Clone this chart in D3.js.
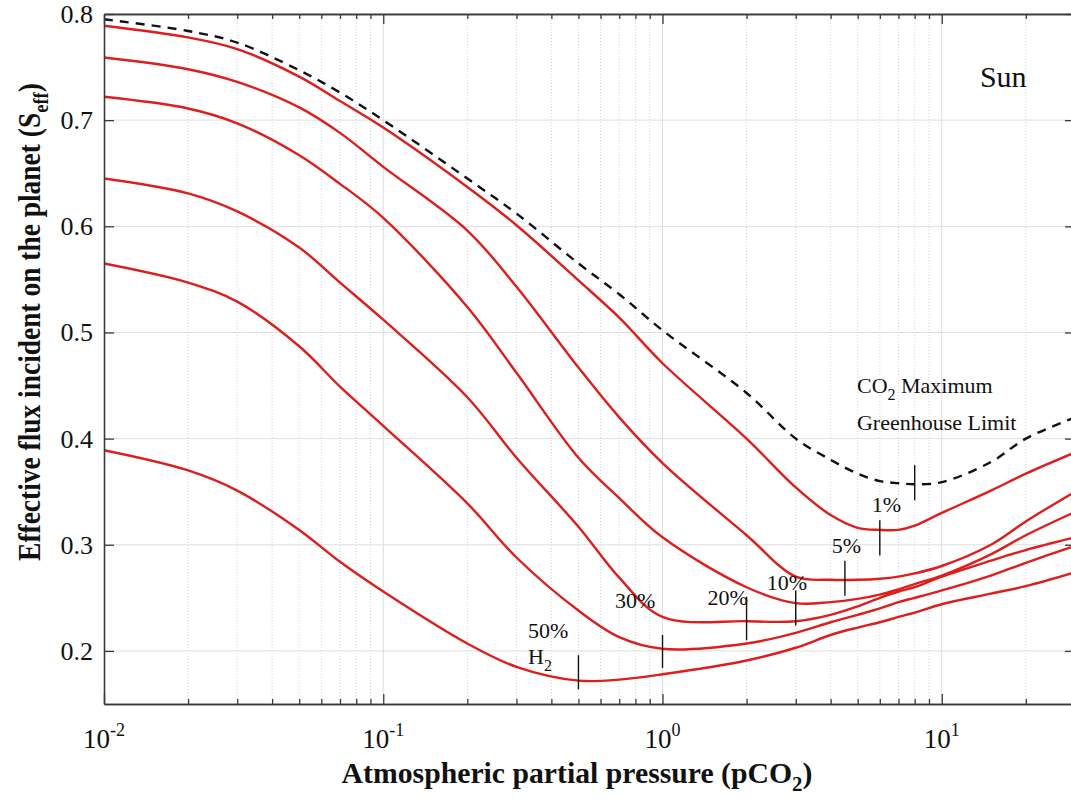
<!DOCTYPE html>
<html>
<head>
<meta charset="utf-8">
<script src="https://cdn.jsdelivr.net/npm/d3@7"></script>
<style>
  body { margin: 0; background: #fff; }
  text { font-family: "Liberation Serif", "Times New Roman", serif; fill: #111; }
</style>
</head>
<body>
<div id="chart"></div>
<script>
// pCO2 sample points (bar)
const pco2 = [0.01, 0.02, 0.03, 0.05, 0.07, 0.1, 0.2, 0.3, 0.5, 0.7, 1, 2, 3, 4, 5, 6, 7, 8, 10, 15, 20, 30];

// CO2 maximum greenhouse limit (dashed)
const co2Limit = [0.795, 0.784, 0.773, 0.747, 0.726, 0.700, 0.645, 0.612, 0.565, 0.536, 0.502, 0.443, 0.400, 0.380, 0.367, 0.360, 0.358, 0.357, 0.359, 0.378, 0.400, 0.420];

// H2 concentrations (red)
const h2_01 = [0.789, 0.778, 0.767, 0.741, 0.718, 0.693, 0.637, 0.601, 0.549, 0.514, 0.471, 0.400, 0.354, 0.328, 0.316, 0.314, 0.314, 0.318, 0.330, 0.351, 0.367, 0.387];
const h2_05 = [0.759, 0.748, 0.736, 0.712, 0.688, 0.656, 0.596, 0.543, 0.467, 0.420, 0.377, 0.309, 0.270, 0.267, 0.267, 0.268, 0.270, 0.273, 0.280, 0.300, 0.322, 0.350];
const h2_10 = [0.722, 0.711, 0.697, 0.667, 0.640, 0.608, 0.524, 0.462, 0.382, 0.344, 0.307, 0.260, 0.245, 0.246, 0.249, 0.253, 0.258, 0.263, 0.271, 0.291, 0.309, 0.331];
const h2_20 = [0.645, 0.631, 0.614, 0.580, 0.547, 0.512, 0.439, 0.382, 0.317, 0.269, 0.232, 0.228, 0.228, 0.234, 0.242, 0.250, 0.256, 0.260, 0.270, 0.285, 0.295, 0.307];
const h2_30 = [0.565, 0.547, 0.529, 0.487, 0.449, 0.412, 0.339, 0.288, 0.238, 0.213, 0.202, 0.207, 0.217, 0.227, 0.234, 0.240, 0.246, 0.250, 0.257, 0.271, 0.283, 0.299];
const h2_50 = [0.389, 0.370, 0.351, 0.314, 0.284, 0.256, 0.207, 0.185, 0.172, 0.173, 0.178, 0.191, 0.203, 0.215, 0.222, 0.227, 0.232, 0.236, 0.244, 0.254, 0.261, 0.274];

const h2Series = [h2_01, h2_05, h2_10, h2_20, h2_30, h2_50];
const h2Labels = ["1%", "5%", "10%", "20%", "30%", "50%"];

// little vertical markers at each curve's minimum
const markerX = [8, 6, 4.5, 3, 2, 1, 0.5];
const markerLow = [0.342, 0.290, 0.252, 0.224, 0.210, 0.184, 0.164];
const markerHigh = [0.375, 0.323, 0.285, 0.257, 0.251, 0.215, 0.196];

// label anchors (left edge, baseline) in data units
const labelX = [5.62, 4.04, 2.36, 1.45, 0.676, 0.330];
const labelY = [0.331, 0.292, 0.257, 0.243, 0.240, 0.212];

const yTicks = [0.2, 0.3, 0.4, 0.5, 0.6, 0.7, 0.8];
const xDecades = [0.01, 0.1, 1, 10];
const xExponents = ["-2", "-1", "0", "1"];

const width = 1071, height = 799;
const pl = 104, pt = 14, pr = 1075, pb = 704;

const svg = d3.select("#chart").append("svg")
  .attr("width", width)
  .attr("height", height);

const x = d3.scaleLog().domain([0.01, 30]).range([pl, pr]);
const y = d3.scaleLinear().domain([0.15, 0.8]).range([pb, pt]);

const xMinor = [];
xDecades.forEach(d => { for (let k = 2; k <= 9; k++) if (d * k <= 30) xMinor.push(d * k); });

svg.append("defs").append("clipPath").attr("id", "plot")
  .append("rect").attr("x", pl).attr("y", pt)
  .attr("width", pr - pl).attr("height", pb - pt);

// grid
const grid = svg.append("g");
grid.selectAll(".minor").data(xMinor).join("line")
  .attr("x1", d => x(d)).attr("x2", d => x(d))
  .attr("y1", pt).attr("y2", pb)
  .attr("stroke", "#d4d4d4").attr("stroke-width", 1)
  .attr("stroke-dasharray", "1,2");
grid.selectAll(".major").data(xDecades.slice(1)).join("line")
  .attr("x1", d => x(d)).attr("x2", d => x(d))
  .attr("y1", pt).attr("y2", pb)
  .attr("stroke", "#dedede").attr("stroke-width", 1);
grid.selectAll(".hmajor").data(yTicks).join("line")
  .attr("x1", pl).attr("x2", pr)
  .attr("y1", d => y(d)).attr("y2", d => y(d))
  .attr("stroke", "#dedede").attr("stroke-width", 1);

// curves
const line = d3.line()
  .x((d, i) => x(pco2[i]))
  .y(d => y(d))
  .curve(d3.curveCatmullRom.alpha(0.5));

const curves = svg.append("g").attr("clip-path", "url(#plot)");
curves.selectAll(".h2").data(h2Series).join("path")
  .attr("d", line)
  .attr("fill", "none")
  .attr("stroke", "#de1d1d")
  .attr("stroke-width", 2.4);
curves.append("path")
  .attr("d", line(co2Limit))
  .attr("fill", "none")
  .attr("stroke", "#111")
  .attr("stroke-width", 2.4)
  .attr("stroke-dasharray", "9,7");

// minimum markers
svg.append("g").selectAll("line").data(markerX).join("line")
  .attr("x1", d => x(d)).attr("x2", d => x(d))
  .attr("y1", (d, i) => y(markerLow[i])).attr("y2", (d, i) => y(markerHigh[i]))
  .attr("stroke", "#111").attr("stroke-width", 1.4);

// axes
const axisColor = "#3a3a3a";
function styleAxis(g) {
  g.select(".domain").attr("stroke", axisColor).attr("stroke-width", 1.6);
  g.selectAll(".tick line").attr("stroke", axisColor).attr("stroke-width", 1.3);
  g.selectAll(".tick text").remove();
}
svg.append("g").attr("transform", `translate(0,${pb})`)
  .call(d3.axisBottom(x).tickValues(xDecades).tickSize(-10).tickSizeOuter(0)).call(styleAxis);
svg.append("g").attr("transform", `translate(0,${pb})`)
  .call(d3.axisBottom(x).tickValues(xMinor).tickSize(-5).tickSizeOuter(0)).call(styleAxis);
svg.append("g").attr("transform", `translate(0,${pt})`)
  .call(d3.axisTop(x).tickValues(xDecades).tickSize(-10).tickSizeOuter(0)).call(styleAxis);
svg.append("g").attr("transform", `translate(0,${pt})`)
  .call(d3.axisTop(x).tickValues(xMinor).tickSize(-5).tickSizeOuter(0)).call(styleAxis);
svg.append("g").attr("transform", `translate(${pl},0)`)
  .call(d3.axisLeft(y).tickValues(yTicks).tickSize(-10).tickSizeOuter(0)).call(styleAxis);
svg.append("g").attr("transform", `translate(${pr},0)`)
  .call(d3.axisRight(y).tickValues(yTicks).tickSize(-10).tickSizeOuter(0)).call(styleAxis);

// tick labels
svg.append("g").selectAll("text").data(yTicks).join("text")
  .attr("x", pl - 11).attr("y", d => y(d) + 9)
  .attr("text-anchor", "end")
  .attr("font-size", 26)
  .text(d => d.toFixed(1));

const xl = svg.append("g").selectAll("text").data(xDecades).join("text")
  .attr("x", d => x(d)).attr("y", 748)
  .attr("text-anchor", "middle")
  .attr("font-size", 27);
xl.append("tspan").text("10");
xl.append("tspan").attr("dy", -12).attr("font-size", 18).text((d, i) => xExponents[i]);

// stretch a title so its on-screen extent matches the given length and centre
function fitTitle(sel, base, len, cx, cy, vertical) {
  sel.attr("transform", base);
  let r = sel.node().getBoundingClientRect();
  const s = len / (vertical ? r.height : r.width);
  sel.attr("transform", `${base} scale(${s},1)`);
  r = sel.node().getBoundingClientRect();
  if (vertical) {
    const dy = cy - (r.top + r.bottom) / 2;
    sel.attr("transform", `translate(0,${dy}) ${base} scale(${s},1)`);
  } else {
    const dx = cx - (r.left + r.right) / 2;
    sel.attr("transform", `translate(${dx},0) ${base} scale(${s},1)`);
  }
}

// axis titles
const xt = svg.append("text")
  .attr("text-anchor", "middle")
  .attr("font-size", 30)
  .attr("font-weight", "bold");
xt.append("tspan").text("Atmospheric partial pressure (pCO");
xt.append("tspan").attr("dy", 8).attr("font-size", 21).text("2");
xt.append("tspan").attr("dy", -8).text(")");
fitTitle(xt, "translate(577,783)", 471, 577, 0, false);

const yt = svg.append("text")
  .attr("text-anchor", "middle")
  .attr("font-size", 31)
  .attr("font-weight", "bold");
yt.append("tspan").text("Effective flux incident on the planet (S");
yt.append("tspan").attr("dy", 8).attr("font-size", 21).text("eff");
yt.append("tspan").attr("dy", -8).text(")");
fitTitle(yt, "translate(40,322) rotate(-90)", 478, 0, 322, true);

// curve labels
svg.append("g").selectAll("text").data(h2Labels).join("text")
  .attr("x", (d, i) => x(labelX[i])).attr("y", (d, i) => y(labelY[i]))
  .attr("font-size", 22)
  .text(d => d);

const h2t = svg.append("text")
  .attr("x", x(0.330)).attr("y", y(0.188))
  .attr("font-size", 22);
h2t.append("tspan").text("H");
h2t.append("tspan").attr("dy", 7).attr("font-size", 16).text("2");

const co2t = svg.append("text")
  .attr("x", x(4.97)).attr("y", y(0.443))
  .attr("font-size", 22);
co2t.append("tspan").text("CO");
co2t.append("tspan").attr("dy", 7).attr("font-size", 16).text("2");
co2t.append("tspan").attr("dy", -7).text(" Maximum");

svg.append("text")
  .attr("x", x(4.97)).attr("y", y(0.408))
  .attr("font-size", 22)
  .text("Greenhouse Limit");

svg.append("text")
  .attr("x", x(13.7)).attr("y", y(0.731))
  .attr("font-size", 30)
  .text("Sun");
</script>
</body>
</html>
